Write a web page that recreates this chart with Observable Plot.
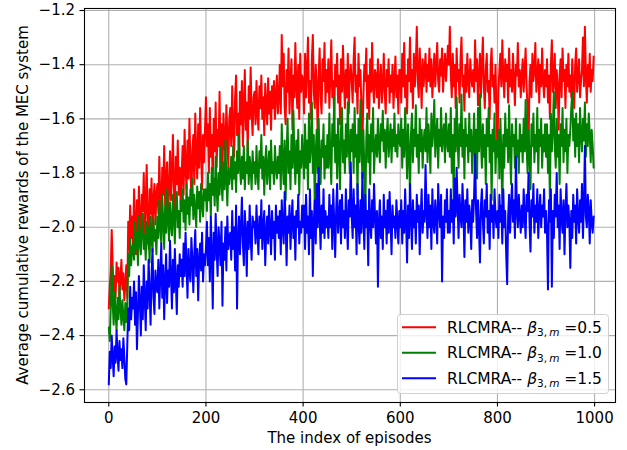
<!DOCTYPE html>
<html>
<head>
<meta charset="utf-8">
<script src="https://cdn.jsdelivr.net/npm/d3@7"></script>
<script src="https://cdn.jsdelivr.net/npm/@observablehq/plot@0.6"></script>
<style>
  html, body { margin: 0; padding: 0; background: #fff; }
  #chart { width: 627px; height: 450px; }
</style>
</head>
<body>
<div id="chart"></div>
<script>
// ---- data (one value every `episodeStep` episodes) ----
const episodeStep = 2;
const xTicks = [0, 200, 400, 600, 800, 1000];
const yTicks = [-2.6, -2.4, -2.2, -2.0, -1.8, -1.6, -1.4, -1.2];
const betaValues = ["0.5", "1.0", "1.5"];
const seriesColors = ["#ff0000", "#008000", "#0000ff"];

const rewardsBeta05 = [
-2.30,-2.22,-2.16,-2.01,-2.14,-2.24,-2.18,-2.26,-2.13,-2.20,-2.15,-2.25,-2.19,-2.12,-2.23,-2.17,-2.27,-2.21,-2.14,-2.26,-1.98,-2.08,-1.92,-2.04,-1.96,
-2.08,-1.86,-1.98,-2.10,-1.90,-2.02,-1.85,-1.96,-2.06,-1.88,-1.94,-1.80,-2.04,-1.92,-1.77,-1.98,-2.08,-1.86,-1.95,-1.82,-2.02,-1.90,-1.84,-1.99,-1.88,
-1.84,-1.95,-1.74,-1.90,-1.98,-1.78,-1.88,-1.70,-1.92,-1.82,-1.76,-1.96,-1.86,-1.72,-1.90,-1.80,-1.66,-1.86,-1.94,-1.74,-1.84,-1.68,-1.88,-1.78,-1.92,
-1.80,-1.70,-1.88,-1.64,-1.78,-1.86,-1.68,-1.82,-1.60,-1.76,-1.90,-1.72,-1.66,-1.84,-1.58,-1.74,-1.82,-1.62,-1.78,-1.56,-1.72,-1.86,-1.66,-1.76,-1.64,
-1.52,-1.70,-1.62,-1.80,-1.56,-1.74,-1.66,-1.84,-1.60,-1.72,-1.54,-1.78,-1.64,-1.70,-1.50,-1.76,-1.62,-1.82,-1.58,-1.68,-1.74,-1.55,-1.66,-1.78,-1.60,
-1.56,-1.70,-1.48,-1.64,-1.74,-1.52,-1.44,-1.66,-1.58,-1.78,-1.50,-1.62,-1.46,-1.70,-1.56,-1.42,-1.64,-1.54,-1.72,-1.48,-1.60,-1.41,-1.58,-1.66,-1.52,
-1.50,-1.62,-1.46,-1.58,-1.64,-1.48,-1.56,-1.44,-1.60,-1.52,-1.66,-1.47,-1.55,-1.62,-1.45,-1.58,-1.50,-1.64,-1.48,-1.56,-1.46,-1.60,-1.52,-1.44,-1.58,
-1.52,-1.40,-1.58,-1.29,-1.48,-1.36,-1.56,-1.62,-1.42,-1.50,-1.34,-1.58,-1.46,-1.38,-1.64,-1.44,-1.52,-1.32,-1.48,-1.56,-1.40,-1.60,-1.36,-1.50,-1.44,
-1.46,-1.58,-1.36,-1.52,-1.42,-1.30,-1.54,-1.46,-1.60,-1.38,-1.29,-1.50,-1.56,-1.40,-1.48,-1.67,-1.44,-1.34,-1.52,-1.58,-1.38,-1.46,-1.32,-1.54,-1.42,
-1.50,-1.38,-1.56,-1.44,-1.31,-1.52,-1.46,-1.60,-1.40,-1.48,-1.36,-1.54,-1.44,-1.62,-1.38,-1.50,-1.33,-1.46,-1.56,-1.42,-1.52,-1.36,-1.58,-1.44,-1.40,
-1.46,-1.54,-1.38,-1.30,-1.50,-1.44,-1.58,-1.36,-1.48,-1.42,-1.56,-1.71,-1.52,-1.40,-1.46,-1.34,-1.56,-1.44,-1.60,-1.38,-1.50,-1.32,-1.48,-1.54,-1.42,
-1.44,-1.52,-1.38,-1.56,-1.46,-1.40,-1.54,-1.48,-1.36,-1.50,-1.58,-1.42,-1.48,-1.38,-1.54,-1.44,-1.50,-1.40,-1.56,-1.46,-1.37,-1.52,-1.44,-1.58,-1.42,
-1.42,-1.54,-1.36,-1.48,-1.32,-1.52,-1.44,-1.58,-1.38,-1.46,-1.30,-1.50,-1.42,-1.56,-1.36,-1.48,-1.40,-1.26,-1.46,-1.52,-1.34,-1.44,-1.56,-1.38,-1.48,
-1.42,-1.36,-1.50,-1.40,-1.46,-1.34,-1.48,-1.38,-1.52,-1.44,-1.36,-1.48,-1.40,-1.32,-1.46,-1.50,-1.38,-1.44,-1.34,-1.50,-1.42,-1.36,-1.46,-1.40,-1.33,
-1.40,-1.26,-1.44,-1.52,-1.36,-1.48,-1.40,-1.56,-1.34,-1.46,-1.42,-1.54,-1.38,-1.30,-1.48,-1.44,-1.57,-1.40,-1.50,-1.36,-1.46,-1.52,-1.38,-1.44,-1.48,
-1.42,-1.50,-1.31,-1.46,-1.38,-1.55,-1.44,-1.36,-1.52,-1.40,-1.30,-1.48,-1.56,-1.42,-1.36,-1.50,-1.46,-1.60,-1.40,-1.34,-1.48,-1.44,-1.54,-1.40,-1.58,
-1.73,-1.50,-1.42,-1.36,-1.48,-1.31,-1.44,-1.52,-1.38,-1.46,-1.40,-1.54,-1.34,-1.48,-1.42,-1.50,-1.36,-1.46,-1.55,-1.40,-1.44,-1.32,-1.48,-1.42,-1.52,
-1.44,-1.38,-1.50,-1.42,-1.34,-1.48,-1.56,-1.71,-1.46,-1.40,-1.52,-1.36,-1.46,-1.42,-1.32,-1.50,-1.44,-1.38,-1.54,-1.40,-1.48,-1.34,-1.46,-1.52,-1.42,
-1.48,-1.38,-1.54,-1.44,-1.60,-1.40,-1.31,-1.50,-1.46,-1.36,-1.56,-1.42,-1.48,-1.64,-1.44,-1.38,-1.52,-1.34,-1.46,-1.42,-1.56,-1.40,-1.48,-1.36,-1.50,
-1.44,-1.52,-1.38,-1.48,-1.56,-1.40,-1.34,-1.50,-1.44,-1.38,-1.52,-1.46,-1.42,-1.30,-1.48,-1.26,-1.44,-1.54,-1.40,-1.48,-1.36,-1.50,-1.42,-1.46,-1.37
];

const rewardsBeta10 = [
-2.37,-2.42,-2.30,-2.14,-2.28,-2.36,-2.24,-2.32,-2.38,-2.26,-2.34,-2.22,-2.30,-2.36,-2.27,-2.33,-2.38,-2.28,-2.35,-2.30,-2.10,-2.18,-2.04,-2.14,-2.08,
-2.06,-2.12,-1.98,-2.08,-2.02,-2.14,-1.96,-2.05,-2.10,-2.00,-1.95,-2.08,-2.03,-2.12,-1.98,-2.06,-2.00,-2.13,-1.96,-2.04,-2.09,-1.97,-2.05,-2.01,-2.10,
-1.96,-2.04,-1.90,-2.00,-2.06,-1.88,-1.98,-2.08,-1.92,-2.02,-1.86,-1.97,-2.05,-1.91,-1.99,-2.03,-1.88,-1.96,-2.06,-1.92,-1.87,-2.00,-1.94,-2.04,-1.90,
-1.94,-1.86,-1.98,-1.90,-2.01,-1.84,-1.95,-1.89,-1.99,-1.86,-1.92,-1.82,-1.97,-1.88,-1.94,-2.00,-1.85,-1.93,-1.87,-1.98,-1.84,-1.91,-1.96,-1.86,-1.90,
-1.86,-1.94,-1.80,-1.90,-1.84,-1.96,-1.78,-1.88,-1.82,-1.92,-1.74,-1.86,-1.94,-1.80,-1.88,-1.70,-1.84,-1.90,-1.76,-1.86,-1.68,-1.82,-1.92,-1.78,-1.84,
-1.80,-1.74,-1.86,-1.70,-1.82,-1.76,-1.87,-1.72,-1.80,-1.66,-1.78,-1.84,-1.74,-1.82,-1.70,-1.86,-1.76,-1.80,-1.68,-1.84,-1.74,-1.78,-1.86,-1.72,-1.80,
-1.76,-1.84,-1.70,-1.80,-1.86,-1.72,-1.78,-1.66,-1.82,-1.74,-1.88,-1.76,-1.70,-1.84,-1.78,-1.72,-1.86,-1.68,-1.80,-1.76,-1.84,-1.70,-1.78,-1.82,-1.74,
-1.80,-1.70,-1.86,-1.62,-1.76,-1.84,-1.68,-1.90,-1.74,-1.60,-1.80,-1.72,-1.86,-1.66,-1.78,-1.57,-1.74,-1.84,-1.68,-1.80,-1.64,-1.88,-1.72,-1.78,-1.66,
-1.74,-1.82,-1.62,-1.78,-1.68,-1.86,-1.58,-1.76,-1.70,-1.54,-1.80,-1.66,-1.93,-1.72,-1.64,-1.80,-1.60,-1.76,-1.84,-1.68,-1.74,-1.62,-1.82,-1.70,-1.78,
-1.66,-1.78,-1.58,-1.74,-1.84,-1.62,-1.70,-1.52,-1.76,-1.66,-1.82,-1.60,-1.72,-1.86,-1.64,-1.56,-1.76,-1.68,-1.80,-1.62,-1.74,-1.54,-1.70,-1.80,-1.64,
-1.72,-1.62,-1.80,-1.56,-1.74,-1.66,-1.88,-1.60,-1.76,-1.53,-1.70,-1.82,-1.64,-1.78,-1.95,-1.68,-1.58,-1.76,-1.66,-1.84,-1.62,-1.72,-1.56,-1.80,-1.70,
-1.66,-1.74,-1.60,-1.70,-1.76,-1.62,-1.68,-1.57,-1.72,-1.64,-1.78,-1.66,-1.60,-1.74,-1.68,-1.62,-1.76,-1.64,-1.70,-1.58,-1.72,-1.66,-1.74,-1.62,-1.68,
-1.70,-1.60,-1.78,-1.64,-1.74,-1.56,-1.68,-1.82,-1.62,-1.72,-1.88,-1.66,-1.58,-1.76,-1.64,-1.70,-1.55,-1.74,-1.66,-1.80,-1.60,-1.72,-1.64,-1.78,-1.68,
-1.64,-1.72,-1.56,-1.76,-1.62,-1.68,-1.80,-1.58,-1.70,-1.64,-1.53,-1.74,-1.66,-1.60,-1.78,-1.64,-1.70,-1.56,-1.72,-1.66,-1.62,-1.76,-1.58,-1.68,-1.72,
-1.62,-1.74,-1.56,-1.80,-1.66,-1.91,-1.60,-1.72,-1.52,-1.68,-1.78,-1.62,-1.70,-1.51,-1.74,-1.64,-1.82,-1.60,-1.70,-1.66,-1.76,-1.58,-1.72,-1.64,-1.80,
-1.70,-1.58,-1.76,-1.64,-1.82,-1.56,-1.72,-1.51,-1.68,-1.78,-1.62,-1.74,-1.66,-1.84,-1.60,-1.70,-1.56,-1.76,-1.66,-1.90,-1.64,-1.72,-1.58,-1.80,-1.68,
-1.74,-1.64,-1.82,-1.60,-1.72,-1.95,-1.66,-1.78,-1.58,-1.70,-1.64,-1.76,-1.55,-1.72,-1.84,-1.62,-1.70,-1.66,-1.78,-1.60,-1.74,-1.68,-1.80,-1.62,-1.72,
-1.66,-1.76,-1.60,-1.72,-1.53,-1.70,-1.80,-1.64,-1.74,-1.86,-1.62,-1.70,-1.58,-1.76,-1.66,-1.72,-1.56,-1.80,-1.64,-1.70,-1.60,-1.78,-1.66,-1.72,-1.62,
-1.74,-1.62,-1.80,-1.66,-1.91,-1.58,-1.72,-1.64,-1.50,-1.70,-1.78,-1.60,-1.74,-1.66,-1.84,-1.62,-1.70,-1.56,-1.76,-1.64,-1.72,-1.60,-1.80,-1.66,-1.70,
-1.64,-1.56,-1.50,-1.68,-1.60,-1.74,-1.58,-1.70,-1.62,-1.76,-1.56,-1.66,-1.72,-1.60,-1.68,-1.54,-1.74,-1.62,-1.70,-1.58,-1.66,-1.76,-1.64,-1.70,-1.78
];

const rewardsBeta15 = [
-2.58,-2.46,-2.52,-2.40,-2.48,-2.55,-2.44,-2.50,-2.38,-2.47,-2.53,-2.42,-2.49,-2.45,-2.52,-2.41,-2.48,-2.56,-2.58,-2.44,-2.30,-2.38,-2.22,-2.34,-2.26,
-2.30,-2.20,-2.36,-2.24,-2.45,-2.32,-2.18,-2.28,-2.40,-2.22,-2.34,-2.14,-2.26,-2.38,-2.20,-2.30,-2.12,-2.24,-2.36,-2.18,-2.08,-2.26,-2.32,-2.16,-2.22,
-2.24,-2.12,-2.30,-2.18,-2.06,-2.26,-2.14,-2.34,-2.20,-2.10,-2.28,-2.16,-2.22,-2.05,-2.18,-2.30,-2.12,-2.24,-2.08,-2.20,-2.32,-2.14,-2.22,-2.10,-2.18,
-2.12,-2.22,-2.06,-2.18,-2.02,-2.14,-2.26,-2.08,-2.16,-2.20,-2.04,-2.12,-2.24,-2.10,-2.01,-2.18,-2.08,-2.27,-2.12,-2.06,-2.16,-2.02,-2.20,-2.10,-2.14,
-2.08,-1.98,-2.14,-2.04,-2.20,-1.96,-2.10,-2.30,-2.02,-2.12,-1.95,-2.08,-2.18,-2.00,-2.06,-2.14,-1.98,-2.29,-2.06,-2.12,-2.00,-2.16,-1.96,-2.08,-2.04,
-2.02,-2.12,-1.94,-2.08,-2.00,-2.16,-1.92,-2.30,-2.04,-1.96,-2.10,-2.00,-1.89,-2.06,-2.14,-1.94,-2.02,-2.18,-1.98,-2.08,-1.92,-2.04,-2.12,-1.96,-2.00,
-1.98,-2.06,-1.92,-2.02,-2.10,-1.96,-2.04,-1.90,-2.08,-2.00,-1.94,-2.14,-2.02,-1.96,-2.06,-1.92,-2.00,-2.10,-1.94,-2.04,-1.98,-2.12,-1.92,-2.02,-1.96,
-2.04,-1.94,-2.10,-1.90,-2.00,-2.06,-1.87,-1.98,-2.14,-1.96,-2.02,-1.92,-2.08,-1.98,-1.90,-2.04,-1.96,-2.12,-1.94,-2.00,-1.88,-2.06,-1.98,-2.02,-1.92,
-2.00,-1.92,-2.08,-1.88,-2.02,-1.96,-2.10,-1.86,-2.04,-1.94,-2.18,-1.98,-1.90,-2.06,-1.84,-2.00,-1.78,-1.96,-2.08,-1.92,-2.02,-1.86,-2.04,-1.94,-2.00,
-1.96,-2.04,-1.88,-2.00,-1.92,-2.08,-1.86,-1.98,-2.11,-1.94,-1.84,-2.02,-1.96,-1.90,-2.06,-1.88,-2.00,-1.94,-2.04,-1.86,-1.98,-2.08,-1.90,-1.96,-1.76,
-1.96,-2.04,-1.86,-2.00,-1.92,-2.10,-1.84,-1.98,-2.06,-1.90,-2.02,-1.80,-1.96,-2.08,-1.88,-2.00,-1.94,-2.14,-1.86,-1.98,-2.04,-1.90,-2.00,-1.84,-1.96,
-2.06,-1.94,-2.22,-1.98,-1.90,-2.04,-1.96,-2.08,-1.88,-2.00,-1.94,-2.06,-1.90,-2.02,-1.87,-1.98,-2.10,-1.92,-2.00,-1.96,-2.04,-1.90,-1.98,-2.06,-1.94,
-2.00,-1.90,-2.06,-1.94,-2.02,-1.86,-1.98,-2.13,-1.92,-2.04,-1.84,-1.96,-2.08,-1.90,-2.00,-1.94,-2.06,-1.88,-1.98,-1.92,-2.10,-1.96,-1.86,-2.02,-1.94,
-1.98,-1.77,-1.94,-2.04,-1.88,-2.00,-1.92,-2.08,-1.86,-1.98,-2.02,-1.90,-1.96,-2.06,-1.84,-1.94,-2.00,-1.88,-2.20,-1.96,-2.04,-1.90,-1.98,-1.86,-2.02,
-1.94,-2.02,-1.86,-1.98,-1.90,-2.06,-1.82,-1.96,-1.78,-1.92,-2.04,-1.88,-1.96,-2.00,-1.84,-1.94,-2.11,-1.90,-1.98,-1.86,-2.02,-1.92,-1.96,-2.08,-1.90,
-1.98,-1.88,-1.73,-1.94,-2.04,-1.90,-2.00,-2.13,-1.92,-1.86,-1.98,-2.06,-1.90,-1.96,-1.84,-2.02,-1.94,-2.08,-1.88,-1.98,-1.92,-2.04,-1.86,-1.96,-2.00,
-1.94,-2.04,-1.88,-1.98,-1.92,-2.06,-1.86,-2.00,-1.94,-2.10,-2.21,-1.96,-1.88,-2.02,-1.92,-1.84,-1.98,-1.90,-2.04,-1.74,-1.94,-2.00,-1.88,-1.96,-2.02,
-1.92,-2.00,-1.86,-1.96,-2.04,-1.88,-1.94,-1.80,-1.98,-2.09,-1.90,-1.96,-1.84,-2.02,-1.92,-1.98,-1.86,-2.04,-1.94,-1.88,-2.00,-1.92,-1.96,-1.86,-2.02,
-1.94,-2.02,-2.23,-1.90,-1.98,-1.86,-2.22,-1.94,-2.04,-1.88,-1.96,-1.80,-2.00,-1.92,-2.08,-1.86,-1.96,-2.02,-1.90,-2.10,-1.94,-1.84,-2.00,-1.92,-1.98,
-2.15,-1.94,-2.04,-1.88,-1.98,-1.92,-2.06,-1.86,-1.96,-2.02,-1.90,-1.98,-1.84,-2.04,-1.92,-1.70,-1.96,-2.00,-1.88,-1.94,-2.06,-1.90,-1.98,-2.02,-1.96
];

const seriesValues = [rewardsBeta05, rewardsBeta10, rewardsBeta15];

// ---- build table ----
const series = seriesValues.map((vals, k) =>
  vals.map((v, i) => ({episode: i * episodeStep, reward: v, beta: betaValues[k]}))
);

const W = 627, H = 450;
const mL = 84, mR = 12, mT = 8, mB = 48;

const chart = Plot.plot({
  width: W,
  height: H,
  marginLeft: mL,
  marginRight: mR,
  marginTop: mT,
  marginBottom: mB,
  style: {fontFamily: "DejaVu Sans", fontSize: "15px", color: "black", background: "white", overflow: "visible"},
  x: {domain: [-50, 1043]},
  y: {domain: [-2.647, -1.1926]},
  marks: [
    Plot.gridX(xTicks, {stroke: "#b0b0b0", strokeOpacity: 1, strokeWidth: 1.1}),
    Plot.gridY(yTicks, {stroke: "#b0b0b0", strokeOpacity: 1, strokeWidth: 1.1}),
    ...series.map((d, k) => Plot.line(d, {
      x: "episode", y: "reward",
      stroke: seriesColors[k], strokeWidth: 2, strokeLinejoin: "round"
    })),
    Plot.frame({stroke: "black", strokeWidth: 1.1}),
    Plot.axisX(xTicks, {tickSize: 4.5, tickPadding: 5, tickFormat: d => String(d), label: null, stroke: "black", strokeWidth: 1.1}),
    Plot.axisY(yTicks, {tickSize: 4.5, tickPadding: 5, tickFormat: d3.format(".1f"), label: null, stroke: "black", strokeWidth: 1.1})
  ]
});

document.getElementById("chart").appendChild(chart);

const svg = d3.select(chart);
const plotCx = mL + (W - mL - mR) / 2;
const plotCy = mT + (H - mT - mB) / 2;

// axis titles
svg.append("text")
  .attr("x", plotCx).attr("y", 443)
  .attr("text-anchor", "middle")
  .attr("font-family", "DejaVu Sans").attr("font-size", 15).attr("fill", "black")
  .text("The index of episodes");

svg.append("text")
  .attr("transform", `translate(28,${plotCy}) rotate(-90)`)
  .attr("text-anchor", "middle")
  .attr("font-family", "DejaVu Sans").attr("font-size", 15).attr("fill", "black")
  .text("Average cumulative rewards of the MEC system");

// legend
const lg = svg.append("g").attr("text-anchor", "start");
lg.append("rect")
  .attr("x", 397.5).attr("y", 314.5).attr("width", 211).attr("height", 79)
  .attr("rx", 3).attr("ry", 3)
  .attr("fill", "white").attr("fill-opacity", 0.8)
  .attr("stroke", "#d0d0d0").attr("stroke-width", 1);

const rowY = [327.3, 352.7, 378.3];
betaValues.forEach((b, k) => {
  const y = rowY[k];
  lg.append("line")
    .attr("x1", 402).attr("x2", 436).attr("y1", y).attr("y2", y)
    .attr("stroke", seriesColors[k]).attr("stroke-width", 2);
  const t = lg.append("text")
    .attr("x", 447).attr("y", y + 5.5)
    .attr("text-anchor", "start")
    .attr("font-family", "DejaVu Sans").attr("font-size", 15.5).attr("fill", "black");
  t.append("tspan").text("RLCMRA-- ");
  t.append("tspan").attr("font-style", "italic").text("β");
  t.append("tspan").attr("font-size", 10.5).attr("dy", 3.5).text("3,\u2009");
  t.append("tspan").attr("font-size", 10.5).attr("font-style", "italic").text("m");
  t.append("tspan").attr("dy", -3.5).text(" =" + b);
});
</script>
</body>
</html>
